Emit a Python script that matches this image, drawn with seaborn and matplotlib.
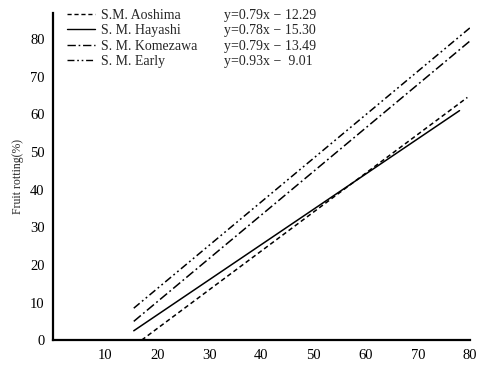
import matplotlib
matplotlib.use("Agg")
import matplotlib.pyplot as plt
import seaborn as sns
import pandas as pd
from matplotlib.lines import Line2D

# Data (start/end of each regression line)
cultivars = ["S.M. Aoshima", "S. M. Hayashi", "S. M. Komezawa", "S. M. Early"]
equations = ["y=0.79x \u2212 12.29", "y=0.78x \u2212 15.30", "y=0.79x \u2212 13.49", "y=0.93x \u2212  9.01"]
x_start = [17.0, 15.5, 15.5, 15.5]
x_end = [79.5, 78.0, 80.0, 80.0]
y_start = [0.0, 2.5, 5.0, 8.5]
y_end = [64.5, 61.0, 79.5, 83.0]
x_ticks = [10, 20, 30, 40, 50, 60, 70, 80]
y_ticks = [0, 10, 20, 30, 40, 50, 60, 70, 80]

rows = []
for c, xs, xe, ys, ye in zip(cultivars, x_start, x_end, y_start, y_end):
    rows.append({"x": xs, "y": ys, "cultivar": c})
    rows.append({"x": xe, "y": ye, "cultivar": c})
df = pd.DataFrame(rows)

sns.set_theme(style="white")
plt.rcParams["font.family"] = ["Liberation Serif", "DejaVu Serif"]

fig = plt.figure(figsize=(4.86, 3.65), dpi=100)
ax = fig.add_axes([0.109, 0.068, 0.858, 0.897])

dashes = {
    "S.M. Aoshima": (3, 2),
    "S. M. Hayashi": "",
    "S. M. Komezawa": (6, 2, 1.2, 2),
    "S. M. Early": (5, 2, 1.2, 2, 1.2, 2),
}
sns.lineplot(data=df, x="x", y="y", style="cultivar", dashes=dashes,
             color="black", linewidth=1.1, legend=False, ax=ax)

ax.set_xlim(0, 80)
ax.set_ylim(0, 87)
ax.set_xticks(x_ticks)
ax.set_xticklabels([str(t) for t in x_ticks], fontsize=10.5)
ax.set_yticks(y_ticks)
ax.set_yticklabels([str(t) for t in y_ticks], fontsize=10.5)
ax.tick_params(axis="both", length=0, pad=6, colors="black")
ax.set_xlabel("")
ax.set_ylabel("Fruit rotting(%)", fontsize=8.5, labelpad=4)
for s in ["top", "right"]:
    ax.spines[s].set_visible(False)
for s in ["left", "bottom"]:
    ax.spines[s].set_color("black")
    ax.spines[s].set_linewidth(1.6)

dash_seq = [(0, (3, 2)), "-", (0, (6, 2, 1.2, 2)), (0, (5, 2, 1.2, 2, 1.2, 2))]
handles = [Line2D([], [], color="black", lw=1.0, linestyle=ls) for ls in dash_seq]
blank = [Line2D([], [], color="none") for _ in equations]
leg = ax.legend(handles + blank, cultivars + equations, ncol=2, loc="upper left",
                bbox_to_anchor=(0.033, 1.012), frameon=False, fontsize=10,
                handlelength=2.0, handletextpad=0.5, columnspacing=-0.6,
                labelspacing=0.18, borderaxespad=0, borderpad=0)

fig.savefig("out.png", dpi=100)
